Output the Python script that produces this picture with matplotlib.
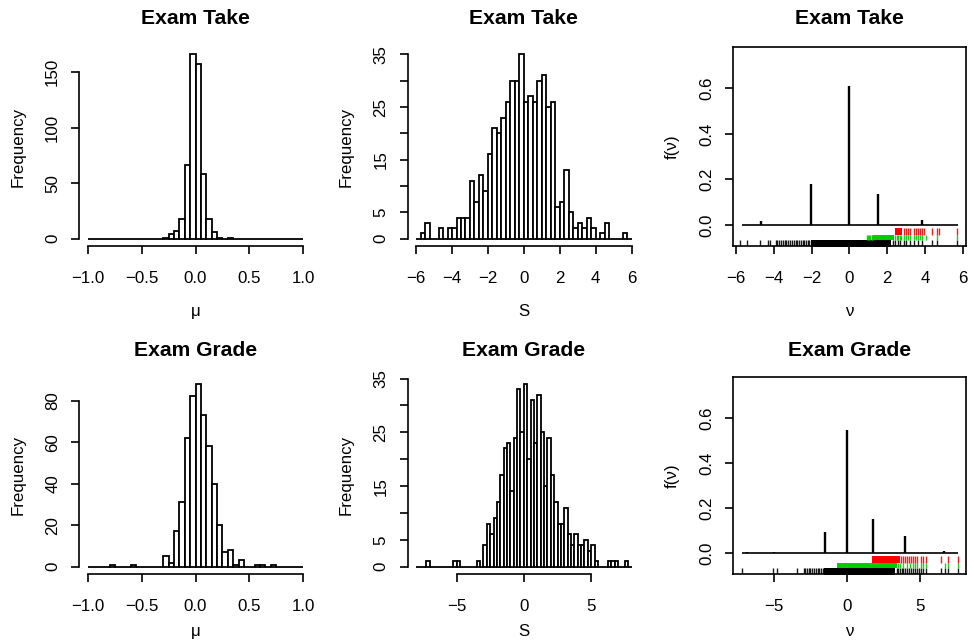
import numpy as np
import matplotlib.pyplot as plt

plt.rcParams['font.family'] = ['Liberation Sans', 'DejaVu Sans']
plt.rcParams['font.size'] = 12.2

W, H = 974, 641

# histogram break grids (same as the R hist breaks)
mu_breaks = np.linspace(-1.0, 1.0, 41)
s_take_breaks = np.linspace(-6.0, 6.0, 49)
s_grade_breaks = np.linspace(-8.0, 8.0, 65)

# counts
mu_take = [0, 0, 0, 0, 0, 0, 0, 0, 0, 0, 0, 0, 0, 0, 1, 4, 7, 18, 66, 166,
           157, 58, 18, 6, 1, 0, 1, 0, 0, 0, 0, 0, 0, 0, 0, 0, 0, 0, 0, 0]
mu_grade = [0, 0, 0, 0, 1, 0, 0, 0, 1, 0, 0, 0, 0, 0, 5, 2, 17, 31, 62, 82,
            88, 73, 58, 40, 20, 7, 8, 1, 3, 0, 0, 1, 1, 0, 1, 0, 0, 0, 0, 0]
s_take = [0, 1, 3, 0, 0, 2, 0, 2, 2, 4, 4, 4, 11, 7, 12, 9, 16, 21, 20, 23,
          26, 30, 30, 35, 26, 27, 26, 30, 31, 25, 26, 6, 7, 13, 5, 2, 3, 2, 4, 2,
          0, 1, 3, 0, 0, 0, 1, 0]
s_grade = [0, 0, 0, 1, 0, 0, 0, 0, 0, 0, 0, 1, 1, 0, 0, 0, 0, 0, 1, 0,
           4, 8, 6, 9, 12, 17, 22, 23, 14, 24, 33, 25, 34, 20, 31, 23, 32, 25, 15, 24,
           17, 12, 8, 8, 11, 6, 4, 6, 4, 4, 5, 3, 4, 1, 0, 0, 0, 1, 1, 1,
           0, 0, 1, 0]

# density of nu: spike locations / heights and support
take_nu = [-4.68, -2.04, 0.0, 1.53, 3.86]
take_f = [0.018, 0.178, 0.612, 0.135, 0.021]
take_range = [-5.68, 5.72]
grade_nu = [-6.9, -5.02, -1.53, 0.0, 1.76, 3.95, 6.67]
grade_f = [0.003, 0.004, 0.092, 0.545, 0.152, 0.077, 0.009]
grade_range = [-7.22, 7.58]
f_range = [-0.06, 0.75]

# rugs: dense (solid) span + isolated ticks
take_black_span = (-2.05, 2.2)
take_black = [-5.77, -5.41, -4.73, -4.32, -4.18, -3.88, -3.8, -3.7, -3.62, -3.5,
              -3.42, -3.33, -3.22, -3.12, -3.03, -2.93, -2.84, -2.75, -2.66, -2.57,
              -2.47, -2.38, -2.3, -2.2, -2.12, 2.3, 2.42, 2.55, 2.7, 2.89, 3.02,
              3.21, 3.42, 3.63, 3.86, 4.39, 4.65, 5.68]
take_green_span = (1.27, 2.37)
take_green = [0.92, 0.98, 1.04, 1.1, 1.17, 1.22, 2.42, 2.5, 2.58, 2.66, 2.75,
              2.89, 3.02, 3.12, 3.21, 3.42, 3.51, 3.63, 3.74, 3.86, 4.04, 4.65,
              5.68]
take_red_span = (2.42, 2.8)
take_red = [2.89, 3.02, 3.12, 3.21, 3.42, 3.51, 3.63, 3.74, 3.86, 3.95, 4.39,
            4.65, 4.72, 5.68]
grade_black_span = (-1.6, 3.3)
grade_black = [-7.21, -5.07, -4.8, -3.47, -2.97, -2.86, -2.75, -2.63, -2.52,
               -2.4, -2.28, -2.15, -2.03, -1.9, -1.78, -1.68, 3.4, 3.5, 3.62,
               3.75, 3.84, 3.95, 4.1, 4.25, 4.4, 4.52, 4.65, 4.8, 4.95, 5.09, 5.2,
               5.43, 6.46, 6.7, 6.92, 7.58]
grade_green_span = (-0.68, 3.4)
grade_green = [3.5, 3.62, 3.84, 4.1, 4.3, 4.52, 4.65, 4.8, 5.09, 5.2, 5.43, 6.7,
               6.92, 7.58]
grade_red_span = (1.74, 3.6)
grade_red = [3.7, 3.84, 3.95, 4.1, 4.25, 4.4, 4.52, 4.65, 4.8, 5.09, 5.2, 5.43,
             6.46, 6.92, 7.58]

fig = plt.figure(figsize=(W / 100, H / 100), dpi=100)


def px_axes(x0, x1, y0, y1):
    return fig.add_axes([x0 / W, 1 - y1 / H, (x1 - x0) / W, (y1 - y0) / H])


def r_lim(lo, hi):
    d = 0.04 * (hi - lo)
    return lo - d, hi + d


def style(ax, title, xlabel, ylabel, top_row):
    ax.set_title(title, fontsize=15.2, fontweight='bold',
                 pad=16.5 if top_row else 15)
    ax.set_xlabel(xlabel, labelpad=13 if top_row else 7.5)
    ax.set_ylabel(ylabel, labelpad=14)
    ax.tick_params(direction='out', length=5.8, width=1.2)
    ax.tick_params(axis='x', pad=12)
    ax.tick_params(axis='y', pad=8)


def hist_panel(ax, breaks, counts, title, xlabel, xticks, xlabels, yticks, ylabels,
               top_row):
    bw = breaks[1] - breaks[0]
    ax.bar(breaks[:-1], counts, width=bw, align='edge', color='white',
           edgecolor='black', linewidth=1.3)
    ax.set_xlim(*r_lim(breaks[0], breaks[-1]))
    ax.set_ylim(*r_lim(0, max(counts)))
    for s in ['top', 'right']:
        ax.spines[s].set_visible(False)
    ax.spines['left'].set_bounds(yticks[0], yticks[-1])
    ax.spines['bottom'].set_bounds(xticks[0], xticks[-1])
    for s in ['left', 'bottom']:
        ax.spines[s].set_linewidth(1.2)
    ax.set_xticks(xticks, labels=xlabels)
    ax.set_yticks(yticks, labels=ylabels, rotation=90, va='center')
    style(ax, title, xlabel, 'Frequency', top_row)


def dens_panel(ax, nu, f, rng, rugs, title, xticks, top_row):
    ax.hlines(0, rng[0], rng[1], color='black', linewidth=1.2)
    ax.vlines(nu, 0, f, color='black', linewidth=1.7)
    rows = [(-0.067, -0.1), (-0.042, -0.067), (-0.012, -0.042)]
    for (span, ticks, col), (y_top, y_bot) in zip(rugs, rows):
        ax.fill_between(span, y_bot, y_top, color=col, linewidth=0)
        ax.vlines(ticks, y_bot, y_top, color=col, linewidth=1.0, alpha=0.9)
    ax.set_xlim(*r_lim(*rng))
    ax.set_ylim(*r_lim(*f_range))
    for s in ax.spines.values():
        s.set_linewidth(1.2)
    ax.set_xticks(xticks, labels=[f'{t:g}'.replace('-', '−') for t in xticks])
    yt = [0.0, 0.2, 0.4, 0.6]
    ax.set_yticks(yt, labels=[f'{t:.1f}' for t in yt], rotation=90, va='center')
    style(ax, title, 'ν', 'f(ν)', top_row)


cols = [(79.4, 311.6), (407.5, 640.2), (733.3, 966.2)]
rows = [(47, 246), (376.7, 574)]

mu_ticks = [-1.0, -0.5, 0.0, 0.5, 1.0]
mu_lab = ['−1.0', '−0.5', '0.0', '0.5', '1.0']
s_lab = ['0', '5', '', '15', '', '25', '', '35']

ax1 = px_axes(*cols[0], *rows[0])
hist_panel(ax1, mu_breaks, mu_take, 'Exam Take', 'μ', mu_ticks, mu_lab,
           [0, 50, 100, 150], ['0', '50', '100', '150'], True)

ax2 = px_axes(*cols[1], *rows[0])
hist_panel(ax2, s_take_breaks, s_take, 'Exam Take', 'S', [-6, -4, -2, 0, 2, 4, 6],
           ['−6', '−4', '−2', '0', '2', '4', '6'],
           [0, 5, 10, 15, 20, 25, 30, 35], s_lab, True)

ax3 = px_axes(*cols[2], *rows[0])
dens_panel(ax3, take_nu, take_f, take_range,
           [(take_black_span, take_black, 'black'),
            (take_green_span, take_green, '#00cd00'),
            (take_red_span, take_red, '#ff0000')],
           'Exam Take', [-6, -4, -2, 0, 2, 4, 6], True)

ax4 = px_axes(*cols[0], *rows[1])
hist_panel(ax4, mu_breaks, mu_grade, 'Exam Grade', 'μ', mu_ticks, mu_lab,
           [0, 20, 40, 60, 80], ['0', '20', '40', '60', '80'], False)

ax5 = px_axes(*cols[1], *rows[1])
hist_panel(ax5, s_grade_breaks, s_grade, 'Exam Grade', 'S', [-5, 0, 5],
           ['−5', '0', '5'], [0, 5, 10, 15, 20, 25, 30, 35], s_lab, False)

ax6 = px_axes(*cols[2], *rows[1])
dens_panel(ax6, grade_nu, grade_f, grade_range,
           [(grade_black_span, grade_black, 'black'),
            (grade_green_span, grade_green, '#00cd00'),
            (grade_red_span, grade_red, '#ff0000')],
           'Exam Grade', [-5, 0, 5], False)

fig.savefig('out.png', dpi=100)
